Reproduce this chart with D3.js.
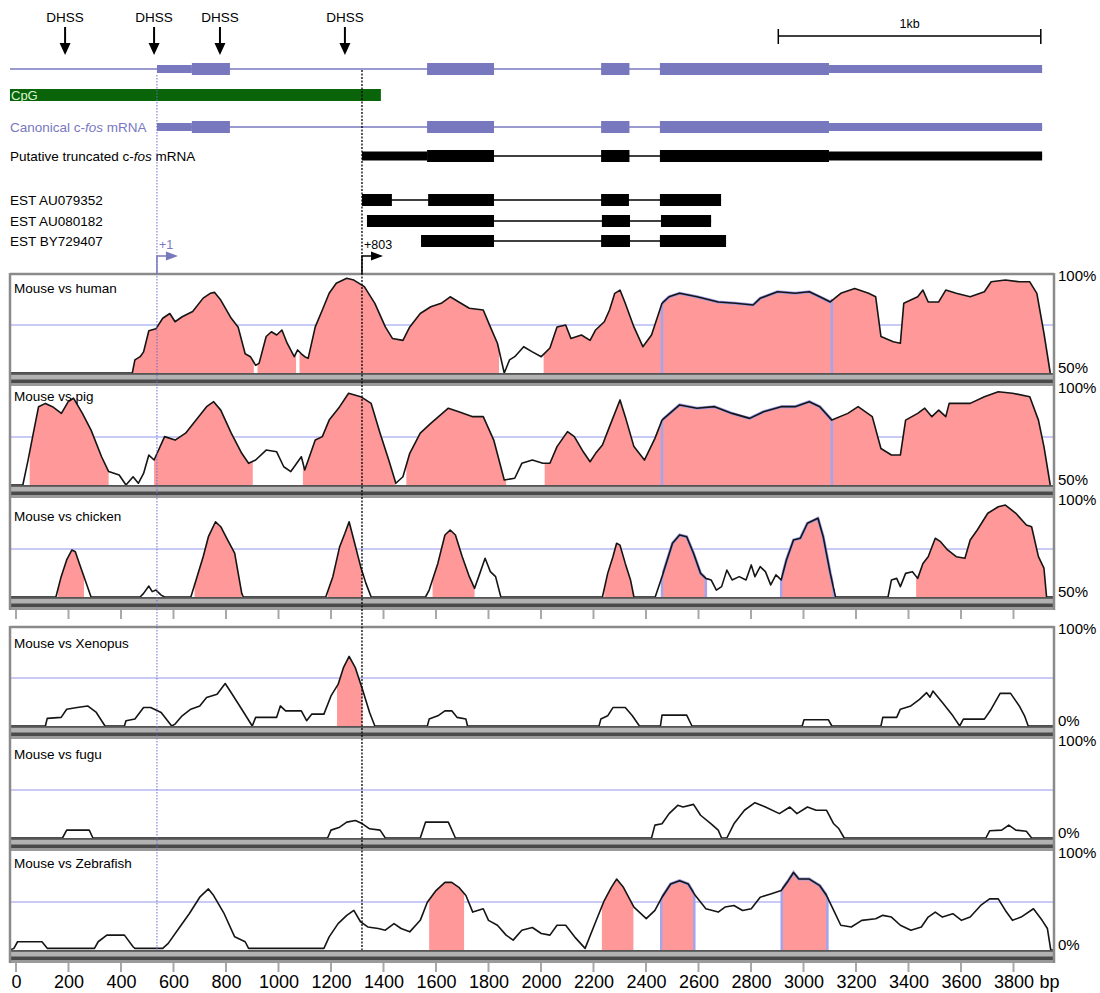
<!DOCTYPE html>
<html>
<head>
<meta charset="utf-8">
<script src="https://cdn.jsdelivr.net/npm/d3@7"></script>
<style>
  body { margin: 0; background: #fff; }
  svg text { font-family: "Liberation Sans", Arial, Helvetica, sans-serif; }
</style>
</head>
<body>
<svg id="chart" width="1100" height="993"></svg>
<script>
// ---- data (positions in bp along the mouse c-fos locus) ----
const tickValues = [0,200,400,600,800,1000,1200,1400,1600,1800,2000,2200,2400,2600,2800,3000,3200,3400,3600,3800];
const dhssSites = [187, 526, 777, 1253];
const cpgIsland = [-23, 1390];
const tssSites = [537, 1318];           // +1 and +803
const tssLabels = ["+1", "+803"];
const scaleBar = [2904, 3904];

// exons: [start, end, type]
const canonicalExons = [[537,670,"utr"],[670,815,"cds"],[1566,1821,"cds"],[2229,2337,"cds"],[2453,3097,"cds"],[3097,3909,"utr"]];
const putativeExons = [[1318,1566,"utr"],[1566,1821,"cds"],[2229,2337,"cds"],[2453,3097,"cds"],[3097,3909,"utr"]];
const estAU079352 = [[1318,1432],[1570,1821],[2229,2335],[2453,2686]];
const estAU080182 = [[1337,1821],[2232,2339],[2457,2648]];
const estBY729407 = [[1543,1821],[2229,2339],[2453,2705]];

// conservation curves: [bp, % identity]
const human = [[-23,50],[443,50],[453,56.8],[473,58.5],[486,61],[506,72],[533,73],[559,78.5],[586,81],[606,76.7],[633,79.3],[673,82],[713,89],[740,91.5],[756,92],[780,88],[820,78.5],[846,74],[873,60],[893,58.5],[913,54],[926,55],[953,69],[973,71.5],[993,69.8],[1013,72.4],[1033,65.5],[1060,58.5],[1073,62],[1087,60],[1100,58.5],[1113,57.6],[1140,74],[1167,82.8],[1193,91.5],[1220,96.7],[1260,99.3],[1287,98.4],[1327,95],[1367,86.3],[1407,74],[1434,68],[1474,67],[1500,74],[1540,81],[1580,84.5],[1620,86.3],[1654,89.7],[1687,87],[1727,83.7],[1780,82.8],[1807,74],[1834,65.5],[1860,50],[1880,56.8],[1900,58.5],[1934,63.7],[1967,61],[2001,58.5],[2034,63],[2061,74],[2094,75],[2114,68],[2154,69.8],[2187,67],[2208,72.4],[2241,76.7],[2261,82.8],[2281,91.5],[2301,93.2],[2321,86.3],[2354,74],[2388,63.7],[2421,69.8],[2461,86.3],[2488,89.7],[2528,91.5],[2594,89.7],[2675,87],[2741,86.3],[2808,85.4],[2835,88.9],[2901,92.3],[2968,91.5],[3022,92.3],[3062,89.7],[3102,87],[3142,91.5],[3195,94],[3248,91.5],[3275,89.7],[3295,69],[3342,66.3],[3369,65.5],[3382,86.3],[3435,89.7],[3455,93.2],[3475,87],[3515,87],[3542,93.2],[3582,91.5],[3635,89.7],[3689,92.3],[3715,97.5],[3769,98.4],[3822,97.5],[3862,97.5],[3889,91.5],[3916,70.7],[3940,50]];
const pig = [[-23,50],[26,50],[46,63],[66,77],[86,90.8],[112,92.5],[139,90.8],[173,87.3],[199,93.4],[219,95.2],[253,87.3],[286,78.6],[326,64.7],[353,57],[393,55.2],[419,50],[446,54.3],[466,50.9],[486,56],[506,65.6],[526,63],[566,75.2],[606,73.4],[646,77],[686,83.8],[726,90.8],[753,93.4],[780,89],[820,77],[860,66.5],[886,61.3],[913,63],[953,68.2],[993,67.3],[1020,59.5],[1047,57],[1087,64.7],[1100,57.8],[1140,73.4],[1167,75.2],[1193,83.8],[1233,90.8],[1267,97.8],[1313,96],[1353,92.5],[1387,77],[1420,63],[1447,50.9],[1474,54.3],[1500,66.5],[1540,77],[1580,82.1],[1647,90],[1687,88.2],[1740,85.6],[1780,85.6],[1820,73.4],[1860,52.6],[1900,53.5],[1927,61.3],[1967,63],[2007,61.3],[2034,61.3],[2061,70],[2101,77.8],[2127,75.2],[2161,67.3],[2187,62.1],[2208,66.5],[2234,70.8],[2261,80.4],[2301,94.3],[2321,85.6],[2354,70],[2394,63],[2434,74.3],[2461,83.8],[2528,91.7],[2594,90],[2661,90.8],[2728,87.3],[2795,84.7],[2848,88.2],[2915,90.8],[2968,90.8],[3022,93.4],[3062,90.8],[3108,83.8],[3169,87.3],[3208,90.8],[3262,85.6],[3295,69],[3335,65.6],[3369,65.6],[3389,83.8],[3435,87.3],[3462,90],[3489,85.6],[3515,89],[3542,85.6],[3555,92.5],[3635,92.5],[3689,96],[3742,98.6],[3796,97.8],[3862,96],[3895,83.8],[3916,70],[3940,50]];
const chicken = [[-23,50],[152,50],[172,60.6],[193,69.3],[213,74.5],[226,73.6],[239,68.4],[259,60.6],[286,50],[473,50],[486,51.9],[506,55.7],[519,52.8],[533,53.6],[553,51],[566,50],[666,50],[686,58.9],[713,71],[733,81.4],[760,89.2],[780,86.6],[806,79.7],[833,72.8],[860,51.9],[866,50],[1180,50],[1207,60.6],[1233,76.2],[1253,83.2],[1269,89.2],[1287,79.7],[1313,65.8],[1333,57.1],[1353,50],[1560,50],[1574,53.6],[1607,67.5],[1634,82.3],[1654,84.9],[1674,82.3],[1700,71],[1727,60.6],[1747,54.5],[1767,62.3],[1787,70.2],[1807,63.2],[1827,60.6],[1847,50],[2234,50],[2254,62.3],[2274,71],[2288,78],[2301,77],[2321,67.5],[2341,58.9],[2354,50],[2435,50],[2461,60.6],[2481,69.3],[2501,78],[2528,82.3],[2555,81.4],[2581,72.8],[2608,62.3],[2628,59.7],[2648,58.9],[2668,53.6],[2688,55.4],[2708,64],[2728,58.9],[2755,60.6],[2781,58.9],[2801,66.7],[2815,60.6],[2835,65.8],[2855,63.2],[2875,56.3],[2895,61.5],[2915,58.9],[2935,69.3],[2962,79.7],[2988,80.6],[3015,88.4],[3055,91],[3075,81.4],[3102,62.3],[3122,50],[3322,50],[3335,58.9],[3355,59.7],[3369,55.4],[3389,62.3],[3415,63.2],[3435,59.7],[3455,67.5],[3475,71],[3502,80.6],[3522,78.8],[3549,74.5],[3582,71],[3615,70.2],[3635,79.7],[3662,84.9],[3702,93.6],[3742,97],[3769,97.9],[3809,93.6],[3849,87.5],[3869,86.6],[3895,71],[3916,65],[3926,50],[3955,50]];
const xenopus = [[-23,0],[112,0],[119,7.9],[172,9],[193,17.5],[233,19.2],[273,20.9],[306,14.1],[339,0],[413,0],[419,5.5],[453,7.2],[486,19.2],[513,19.2],[553,14.1],[593,0],[606,2],[633,10.6],[666,17.5],[700,20.9],[726,29.6],[766,33],[797,44.3],[820,34.7],[860,17.5],[900,0],[913,9],[993,9],[1007,20.9],[1027,15.8],[1087,15.8],[1107,5.5],[1127,12.4],[1173,12.4],[1200,31.3],[1227,43.3],[1247,60.5],[1269,72.5],[1293,60.5],[1320,38.1],[1347,14.1],[1367,0],[1567,0],[1574,7.2],[1607,10.6],[1634,15.8],[1660,15.8],[1680,9],[1714,7.2],[1720,0],[2221,0],[2228,7.2],[2254,10.6],[2274,19.2],[2321,19.2],[2348,10.6],[2375,0],[2455,0],[2461,11.3],[2555,11.3],[2575,0],[2995,0],[3002,6.5],[3095,6.5],[3108,0],[3295,0],[3302,9],[3355,9],[3369,17.5],[3409,20.9],[3442,27.8],[3469,34.7],[3482,30],[3493,36.4],[3529,24.4],[3569,10.6],[3595,0],[3609,7.2],[3689,7.2],[3715,17.5],[3749,34],[3789,34],[3822,20.9],[3842,10.6],[3856,0],[3955,0]];
const fugu = [[-23,0],[177,0],[193,8.2],[279,8.2],[293,0],[1187,0],[1200,8.2],[1233,11.3],[1260,16.5],[1293,18.2],[1320,14.8],[1347,9.6],[1387,8.2],[1407,0],[1540,0],[1560,16.5],[1647,16.5],[1674,0],[2421,0],[2434,13.4],[2461,14.8],[2488,25.4],[2521,34],[2541,32.3],[2581,35],[2608,23.7],[2648,14.8],[2675,8.2],[2688,0],[2708,0],[2735,14.8],[2775,28.9],[2815,36.8],[2855,32.3],[2908,25.4],[2948,32.3],[2975,25.4],[3015,32.3],[3048,28.9],[3088,28.9],[3115,14.8],[3135,9.6],[3155,0],[3695,0],[3709,7.5],[3755,8.2],[3782,13.4],[3809,8.2],[3849,7],[3869,0],[3955,0]];
const zebrafish = [[-23,0],[-8,1.7],[6,8.6],[99,8.6],[119,1.7],[299,1.7],[313,8.6],[346,15.5],[413,15.5],[446,3.4],[453,1.7],[559,1.7],[580,6.9],[620,22.4],[660,37.8],[700,55],[733,63.6],[753,56.7],[793,37.8],[833,13.7],[873,8.6],[886,1.7],[1173,1.7],[1193,13.7],[1227,27.5],[1260,36.1],[1287,41.2],[1313,29.2],[1340,24],[1380,22.4],[1407,20.6],[1440,27.5],[1467,22.4],[1500,18.9],[1540,30.9],[1567,49.8],[1600,61.9],[1634,70.4],[1660,70.4],[1687,65.3],[1714,56.7],[1740,39.5],[1780,43],[1800,30.9],[1834,25.8],[1867,15.5],[1894,10.3],[1927,20.6],[1967,23.4],[2001,17.2],[2034,15.5],[2061,25.8],[2094,25.8],[2128,13.7],[2168,1.7],[2208,29.2],[2241,51.5],[2268,65.3],[2288,73.9],[2314,65.3],[2354,44.7],[2401,32.6],[2434,41.2],[2461,55],[2494,68.7],[2528,72.2],[2561,68.7],[2588,56.7],[2628,43],[2675,39.5],[2701,44.7],[2735,46.4],[2768,41.2],[2801,43],[2835,55],[2875,58.4],[2915,61.9],[2942,72.2],[2962,80.7],[2982,73.9],[3022,73.9],[3062,67],[3088,56.7],[3115,41.2],[3142,25.8],[3182,24],[3222,30.9],[3275,32.6],[3302,36.1],[3335,34.3],[3369,25.8],[3409,20.6],[3449,24],[3475,34.3],[3502,39.5],[3529,34.3],[3569,37.8],[3602,30.9],[3635,34.3],[3675,46.4],[3709,53.3],[3742,53.3],[3769,41.2],[3796,30.9],[3829,34.3],[3876,43],[3909,30.9],[3929,22.4],[3942,0],[3955,0]];

// conserved (shaded) regions and exon-coloured regions, [start, end]
const humanFill = [[446,906],[920,1067],[1080,1840],[2010,3940]];
const humanExon = [[2461,3108]];
const pigFill = [[52,353],[526,902],[1093,1447],[1487,1867],[2014,3940]];
const pigExon = [[2461,3108]];
const chickenFill = [[159,259],[680,860],[1187,1320],[1587,1747],[2241,2354],[3429,3926]];
const chickenExon = [[2461,2628],[2915,3115]];
const xenopusFill = [[1223,1320]];
const fuguFill = [];
const zebrafishFill = [[1574,1707],[2232,2352]];
const zebrafishExon = [[2458,2584],[2917,3091]];

const panels = [
  { name: "Mouse vs human",     data: human,     fills: humanFill,     exons: humanExon,     lo: 50 },
  { name: "Mouse vs pig",       data: pig,       fills: pigFill,       exons: pigExon,       lo: 50 },
  { name: "Mouse vs chicken",   data: chicken,   fills: chickenFill,   exons: chickenExon,   lo: 50 },
  { name: "Mouse vs Xenopus",   data: xenopus,   fills: xenopusFill,   exons: [],            lo: 0 },
  { name: "Mouse vs fugu",      data: fugu,      fills: fuguFill,      exons: [],            lo: 0 },
  { name: "Mouse vs Zebrafish", data: zebrafish, fills: zebrafishFill, exons: zebrafishExon, lo: 0 }
];

// ---- layout ----
const panelTop = [274, 386, 498, 627, 739, 851];
const titleDy = [19, 15, 23, 21, 20, 17];
const panelH = 99, sepH = 13;
const frameL = 10, frameR = 1054;
const purple = "#7878bf";
const pink = "#ff9999";

const svg = d3.select("#chart");
const defs = svg.append("defs");

const x = d3.scaleLinear().domain([0, 3800]).range([16, 1013.5]);

function valueAt(data, bp) {
  for (let k = 1; k < data.length; k++) {
    if (data[k][0] >= bp) {
      const a = data[k - 1], b = data[k];
      const t = (bp - a[0]) / (b[0] - a[0]);
      return a[1] + t * (b[1] - a[1]);
    }
  }
  return data[data.length - 1][1];
}

// ---- gene diagram ----
const geneG = svg.append("g");

// DHSS arrows
dhssSites.forEach(d => {
  const cx = x(d);
  geneG.append("text").attr("x", cx).attr("y", 22).attr("text-anchor", "middle")
    .attr("font-size", 13.5).text("DHSS");
  geneG.append("line").attr("x1", cx).attr("x2", cx).attr("y1", 27).attr("y2", 44)
    .attr("stroke", "#000").attr("stroke-width", 2);
  geneG.append("path").attr("d", `M${cx - 5.5},43 L${cx + 5.5},43 L${cx},55 Z`).attr("fill", "#000");
});

// 1 kb scale bar
geneG.append("line").attr("x1", x(scaleBar[0])).attr("x2", x(scaleBar[1])).attr("y1", 36).attr("y2", 36)
  .attr("stroke", "#000").attr("stroke-width", 1.5);
scaleBar.forEach(b => geneG.append("line").attr("x1", x(b)).attr("x2", x(b)).attr("y1", 29).attr("y2", 44)
  .attr("stroke", "#000").attr("stroke-width", 1.5));
geneG.append("text").attr("x", x((scaleBar[0] + scaleBar[1]) / 2)).attr("y", 28).attr("text-anchor", "middle")
  .attr("font-size", 12.5).text("1kb");

// CpG island
geneG.append("rect").attr("x", x(cpgIsland[0])).attr("y", 89).attr("width", x(cpgIsland[1]) - x(cpgIsland[0]))
  .attr("height", 12).attr("fill", "#0a640a");
geneG.append("text").attr("x", 11).attr("y", 99.5).attr("font-size", 13).attr("fill", "#d8f5d0").text("CpG");

function drawTranscript(cy, color, lineRange, exons, thick, thin) {
  geneG.append("line").attr("x1", x(lineRange[0])).attr("x2", x(lineRange[1])).attr("y1", cy).attr("y2", cy)
    .attr("stroke", color).attr("stroke-width", 1.5);
  exons.forEach(e => {
    const h = e[2] === "utr" ? thin : thick;
    geneG.append("rect").attr("x", x(e[0])).attr("y", cy - h / 2).attr("width", x(e[1]) - x(e[0]))
      .attr("height", h).attr("fill", color);
  });
}
drawTranscript(69, purple, [-23, 3909], canonicalExons, 12, 8);
drawTranscript(127, purple, [537, 3909], canonicalExons, 12, 8);
drawTranscript(156, "#000", [1318, 3909], putativeExons, 12, 9);
drawTranscript(200, "#000", [1318, 2686], estAU079352, 12, 12);
drawTranscript(221, "#000", [1337, 2648], estAU080182, 12, 12);
drawTranscript(241, "#000", [1543, 2705], estBY729407, 12, 12);

function richLabel(yy, color, parts) {
  const t = geneG.append("text").attr("x", 10).attr("y", yy).attr("font-size", 13.5).attr("fill", color);
  parts.forEach(p => t.append("tspan").attr("font-style", p[1] ? "italic" : "normal").text(p[0]));
}
richLabel(132, purple, [["Canonical c-", false], ["fos", true], [" mRNA", false]]);
richLabel(161, "#000", [["Putative truncated c-", false], ["fos", true], [" mRNA", false]]);
richLabel(205, "#000", [["EST AU079352", false]]);
richLabel(226, "#000", [["EST AU080182", false]]);
richLabel(246, "#000", [["EST BY729407", false]]);

// ---- conservation panels ----
panels.forEach((p, i) => {
  const t0 = panelTop[i], base = t0 + panelH;
  const y = d3.scaleLinear().domain([p.lo, 100]).range([base, t0 + 3]);
  const g = svg.append("g");
  const cut = (p.lo + 100) / 2;

  g.append("line").attr("x1", frameL + 1).attr("x2", frameR - 1).attr("y1", y(cut)).attr("y2", y(cut))
    .attr("stroke", "#cacaf6").attr("stroke-width", 2);

  const area = d3.area().x(d => x(d[0])).y0(base).y1(d => y(d[1]));
  const line = d3.line().x(d => x(d[0])).y(d => y(d[1]));

  const shade = (list, tag, edge) => list.forEach((f, j) => {
    const id = `clip-${i}-${tag}-${j}`;
    defs.append("clipPath").attr("id", id).append("rect")
      .attr("x", x(f[0])).attr("y", t0 - 5).attr("width", x(f[1]) - x(f[0])).attr("height", panelH + 5);
    g.append("path").datum(p.data).attr("d", area).attr("fill", pink).attr("clip-path", `url(#${id})`);
    if (edge) {
      g.append("path").datum(p.data).attr("d", line).attr("fill", "none")
        .attr("stroke", "#9c9ce8").attr("stroke-width", 3).attr("clip-path", `url(#${id})`);
      f.forEach(b => g.append("line").attr("x1", x(b)).attr("x2", x(b)).attr("y1", base)
        .attr("y2", y(valueAt(p.data, b))).attr("stroke", "#a4a4ec").attr("stroke-width", 2.5));
    }
  });
  shade(p.fills, "f", false);
  shade(p.exons, "e", true);

  g.append("path").datum(p.data).attr("d", line).attr("fill", "none")
    .attr("stroke", "#151515").attr("stroke-width", 1.6).attr("stroke-linejoin", "round");

  g.append("text").attr("x", 14).attr("y", t0 + titleDy[i]).attr("font-size", 13.5).text(p.name);

  // separator band under each panel
  const s = g.append("g");
  s.append("rect").attr("x", frameL).attr("y", base).attr("width", frameR - frameL).attr("height", sepH).attr("fill", "#b2b2b2");
  s.append("rect").attr("x", frameL).attr("y", base).attr("width", frameR - frameL).attr("height", 1.8).attr("fill", "#555");
  s.append("rect").attr("x", frameL).attr("y", base + 6.5).attr("width", frameR - frameL).attr("height", 3.5).attr("fill", "#4a4a4a");
  s.append("rect").attr("x", frameL).attr("y", base + 10).attr("width", frameR - frameL).attr("height", 3).attr("fill", "#9a9a9a");

  // right-hand scale labels
  g.append("text").attr("x", 1058).attr("y", t0 + 7).attr("font-size", 15).text("100%");
  g.append("text").attr("x", 1058).attr("y", base).attr("font-size", 15).text(p.lo + "%");
});

// frames around the two groups
[[0, 2], [3, 5]].forEach(([a, b]) => {
  const t0 = panelTop[a], b0 = panelTop[b] + panelH + sepH;
  svg.append("line").attr("x1", frameL).attr("x2", frameR).attr("y1", t0).attr("y2", t0)
    .attr("stroke", "#8a8a8a").attr("stroke-width", 2.5);
  [frameL, frameR].forEach(fx => svg.append("line").attr("x1", fx).attr("x2", fx).attr("y1", t0 - 1).attr("y2", b0)
    .attr("stroke", "#8a8a8a").attr("stroke-width", 2.5));
  // small ticks under each group
  svg.append("g").selectAll("line").data(tickValues).join("line")
    .attr("x1", d => x(d)).attr("x2", d => x(d)).attr("y1", b0).attr("y2", b0 + 9)
    .attr("stroke", "#a8a8a8").attr("stroke-width", 2);
});

// bottom axis labels
const axisY = panelTop[5] + panelH + sepH;
svg.append("g").attr("transform", `translate(0,${axisY})`)
  .call(d3.axisBottom(x).tickValues(tickValues).tickSize(0).tickPadding(12).tickFormat(d3.format("d")))
  .call(g => g.select(".domain").remove())
  .call(g => g.selectAll("text").attr("font-size", 18).attr("font-family", "Liberation Sans, Arial, sans-serif").attr("fill", "#000"));
svg.append("text").attr("x", x(3800) + 26).attr("y", 988).attr("font-size", 18).text("bp");

// transcription start sites and guide lines
const guideColors = [purple, "#000"];
tssSites.forEach((s, k) => {
  const cx = x(s), col = guideColors[k];
  svg.append("line").attr("x1", cx).attr("x2", cx).attr("y1", k === 0 ? 75 : 70).attr("y2", panelTop[5] + panelH)
    .attr("stroke", k === 0 ? "#6a6ad0" : "#000").attr("stroke-width", k === 0 ? 1 : 1.3)
    .attr("stroke-dasharray", k === 0 ? "1.5,1.5" : "2,1.5");
  svg.append("path").attr("d", `M${cx},${panelTop[0]} V256 H${cx + 9}`).attr("fill", "none")
    .attr("stroke", col).attr("stroke-width", 1.5);
  svg.append("path").attr("d", `M${cx + 9},251.5 L${cx + 21},256 L${cx + 9},260.5 Z`).attr("fill", col);
  svg.append("text").attr("x", cx + 2).attr("y", 249).attr("font-size", 12.5).attr("fill", col).text(tssLabels[k]);
});
</script>
</body>
</html>
